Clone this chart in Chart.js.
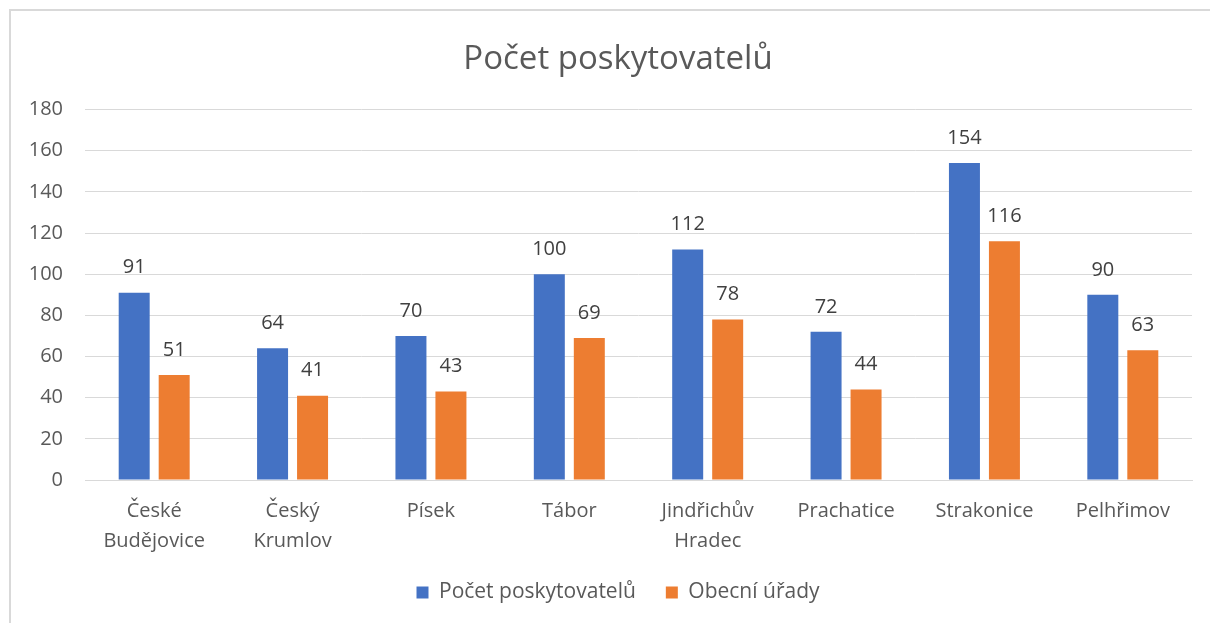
<!DOCTYPE html>
<html>
<head>
<meta charset="utf-8">
<script src="https://cdn.jsdelivr.net/npm/chart.js@4.4.0/dist/chart.umd.min.js"></script>
<style>
  html, body { margin: 0; padding: 0; background: #fff; overflow: hidden; width: 1210px; height: 623px; }
  #frame { position: absolute; left: 9px; top: 9px; width: 1216px; height: 640px;
           border-left: 2px solid #d9d9d9; border-top: 2px solid #d9d9d9; }
  #wrap { position: absolute; left: 0; top: 0; width: 1214px; height: 612px; }
</style>
</head>
<body>
<div id="frame"><div id="wrap"><canvas id="chart"></canvas></div></div>
<script>
// data
var categories = [['České', 'Budějovice'], ['Český', 'Krumlov'], 'Písek', 'Tábor',
                  ['Jindřichův', 'Hradec'], 'Prachatice', 'Strakonice', 'Pelhřimov'];
var providers = [91, 64, 70, 100, 112, 72, 154, 90];
var offices = [51, 41, 43, 69, 78, 44, 116, 63];
var seriesNames = ['Počet poskytovatelů', 'Obecní úřady'];

var FONT = '"Open Sans", "Noto Sans", sans-serif';
var TEXT = '#595959';

// value labels above each bar
var barLabels = {
    id: 'barLabels',
    afterDatasetsDraw: function(chart) {
        var ctx = chart.ctx;
        ctx.save();
        ctx.font = '20px ' + FONT;
        ctx.fillStyle = '#404040';
        ctx.textAlign = 'center';
        ctx.textBaseline = 'middle';
        chart.data.datasets.forEach(function(ds, i) {
            chart.getDatasetMeta(i).data.forEach(function(bar, j) {
                ctx.fillText(ds.data[j], bar.x, bar.y - 25);
            });
        });
        ctx.restore();
    }
};

var ctx = document.getElementById('chart').getContext('2d');

var chart = new Chart(ctx, {
    type: 'bar',
    data: {
        labels: categories,
        datasets: [{
            label: seriesNames[0],
            data: providers,
            backgroundColor: '#4472C4'
        }, {
            label: seriesNames[1],
            data: offices,
            backgroundColor: '#ED7D31'
        }]
    },
    options: {
        responsive: true,
        maintainAspectRatio: false,
        animation: false,
        categoryPercentage: 0.578,
        barPercentage: 0.775,
        layout: { padding: { top: 29, right: 0, bottom: 10, left: 0 } },
        scales: {
            x: {
                // labels may run into the legend's empty top padding
                afterFit: function(scale) { scale.height = scale.height - 20; },
                grid: { display: false, drawTicks: false },
                border: { display: true, color: '#d9d9d9', width: 1 },
                ticks: { color: TEXT, font: { family: FONT, size: 20, lineHeight: 1.5 }, padding: 16, maxRotation: 0, autoSkip: false }
            },
            y: {
                min: 0,
                max: 180,
                afterFit: function(scale) { scale.width = 74; },
                grid: { color: '#d9d9d9', drawTicks: false },
                border: { display: false },
                ticks: { stepSize: 20, color: TEXT, font: { family: FONT, size: 20 }, padding: 22 }
            },
            // empty right-hand strip so title and legend stay centred on the frame
            y2: {
                position: 'right',
                min: 0,
                max: 180,
                afterFit: function(scale) { scale.width = 33; },
                grid: { display: false, drawTicks: false },
                border: { display: false },
                ticks: { display: false }
            }
        },
        plugins: {
            title: {
                display: true,
                text: 'Počet poskytovatelů',
                color: TEXT,
                font: { family: FONT, size: 33, weight: 'normal' },
                padding: { top: 0, bottom: 30 }
            },
            legend: {
                position: 'bottom',
                labels: { color: TEXT, font: { family: FONT, size: 21 }, boxWidth: 12, boxHeight: 12, padding: 30 }
            },
            tooltip: { enabled: false }
        }
    },
    plugins: [barLabels]
});
</script>
</body>
</html>
